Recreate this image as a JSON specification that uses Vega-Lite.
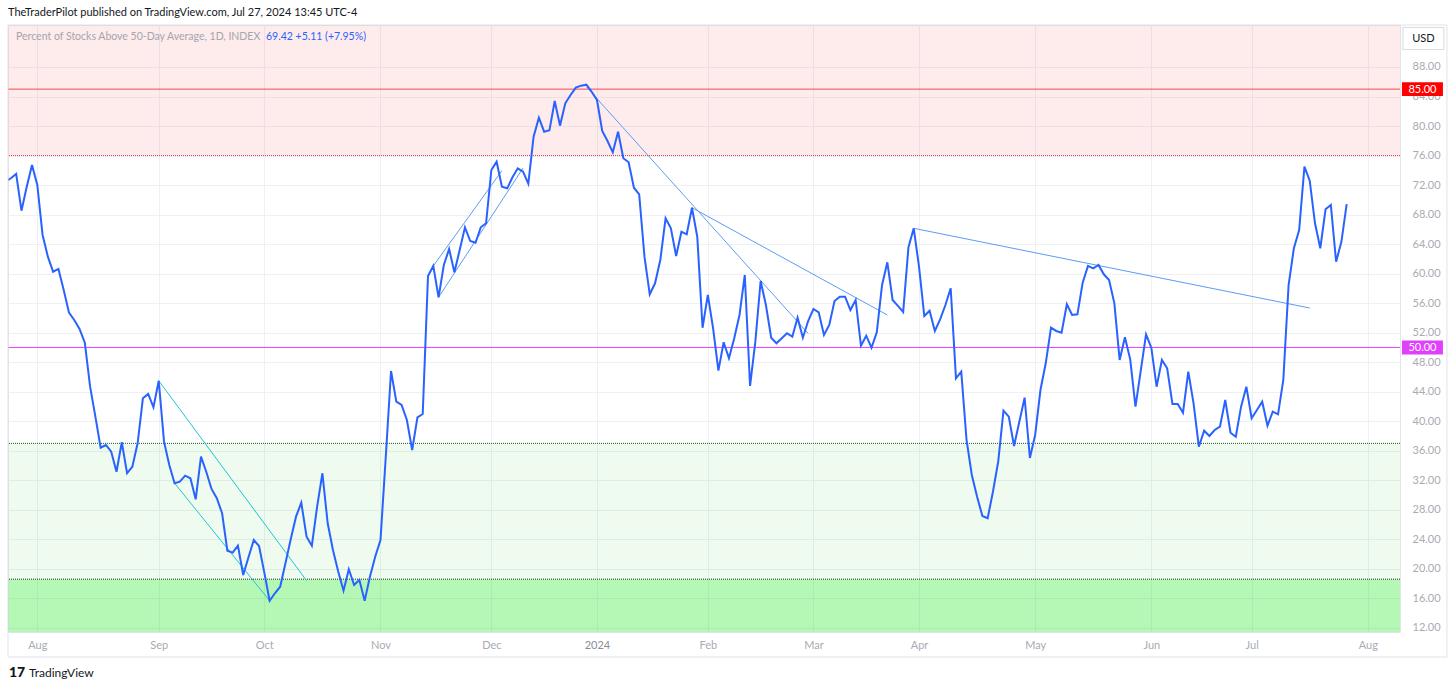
{
  "$schema": "https://vega.github.io/schema/vega-lite/v6.json",
  "width": 1392,
  "height": 607,
  "autosize": {"type": "none"},
  "padding": {"left": 8, "top": 25, "right": 56, "bottom": 57},
  "background": "#ffffff",
  "config": {
    "view": {"stroke": "#e0e3eb", "strokeWidth": 1},
    "font": "Lato",
    "axis": {"labelFont": "Lato", "labelFontSize": 11, "labelColor": "#a8abb3", "gridColor": "#eef0f4", "gridWidth": 1, "domain": false, "ticks": false, "tickSize": 0}
  },
  "title": {
    "text": "TheTraderPilot published on TradingView.com, Jul 27, 2024 13:45 UTC-4",
    "anchor": "start",
    "frame": "group",
    "font": "Lato",
    "fontSize": 11,
    "fontWeight": "normal",
    "color": "#131722",
    "offset": 7
  },
  "datasets": {
    "prices": [
      {"date":"2023-07-24","value":72.5},{"date":"2023-07-25","value":72.92},{"date":"2023-07-26","value":73.5},{"date":"2023-07-27","value":68.53},{"date":"2023-07-28","value":71.78},{"date":"2023-07-31","value":74.72},
      {"date":"2023-08-01","value":72.01},{"date":"2023-08-02","value":65.24},{"date":"2023-08-03","value":62.3},{"date":"2023-08-04","value":60.26},{"date":"2023-08-07","value":60.63},{"date":"2023-08-08","value":57.78},{"date":"2023-08-09","value":54.71},{"date":"2023-08-10","value":53.72},{"date":"2023-08-11","value":52.5},{"date":"2023-08-14","value":50.64},{"date":"2023-08-15","value":44.68},{"date":"2023-08-16","value":40.62},{"date":"2023-08-17","value":36.41},{"date":"2023-08-18","value":36.78},{"date":"2023-08-21","value":35.87},{"date":"2023-08-22","value":33.16},{"date":"2023-08-23","value":37.15},{"date":"2023-08-24","value":32.95},{"date":"2023-08-25","value":33.84},{"date":"2023-08-28","value":37.01},{"date":"2023-08-29","value":43.11},{"date":"2023-08-30","value":43.69},{"date":"2023-08-31","value":41.89},
      {"date":"2023-09-01","value":45.49},{"date":"2023-09-05","value":37.23},{"date":"2023-09-06","value":34.07},{"date":"2023-09-07","value":31.59},{"date":"2023-09-08","value":31.81},{"date":"2023-09-11","value":32.62},{"date":"2023-09-12","value":32.27},{"date":"2023-09-13","value":29.42},{"date":"2023-09-14","value":35.2},{"date":"2023-09-15","value":33.16},{"date":"2023-09-18","value":30.82},{"date":"2023-09-19","value":29.56},{"date":"2023-09-20","value":27.53},{"date":"2023-09-21","value":22.46},{"date":"2023-09-22","value":22.19},{"date":"2023-09-25","value":23.14},{"date":"2023-09-26","value":19.17},{"date":"2023-09-27","value":21.56},{"date":"2023-09-28","value":23.91},{"date":"2023-09-29","value":23.09},
      {"date":"2023-10-02","value":19.48},{"date":"2023-10-03","value":15.68},{"date":"2023-10-04","value":16.69},{"date":"2023-10-05","value":17.58},{"date":"2023-10-06","value":20.75},{"date":"2023-10-09","value":24.0},{"date":"2023-10-10","value":27.07},{"date":"2023-10-11","value":28.96},{"date":"2023-10-12","value":24.35},{"date":"2023-10-13","value":23.14},{"date":"2023-10-16","value":28.42},{"date":"2023-10-17","value":32.95},{"date":"2023-10-18","value":26.17},{"date":"2023-10-19","value":22.55},{"date":"2023-10-20","value":19.61},{"date":"2023-10-23","value":17.04},{"date":"2023-10-24","value":19.94},{"date":"2023-10-25","value":17.81},{"date":"2023-10-26","value":18.49},{"date":"2023-10-27","value":15.68},{"date":"2023-10-30","value":18.93},{"date":"2023-10-31","value":21.64},
      {"date":"2023-11-01","value":23.91},{"date":"2023-11-02","value":35.15},{"date":"2023-11-03","value":46.81},{"date":"2023-11-06","value":42.65},{"date":"2023-11-07","value":42.2},{"date":"2023-11-08","value":40.17},{"date":"2023-11-09","value":36.1},{"date":"2023-11-10","value":40.53},{"date":"2023-11-13","value":40.98},{"date":"2023-11-14","value":59.68},{"date":"2023-11-15","value":61.04},{"date":"2023-11-16","value":56.79},{"date":"2023-11-17","value":61.17},{"date":"2023-11-20","value":63.34},{"date":"2023-11-21","value":60.18},{"date":"2023-11-22","value":63.2},{"date":"2023-11-24","value":66.28},{"date":"2023-11-27","value":64.42},{"date":"2023-11-28","value":64.19},{"date":"2023-11-29","value":66.28},{"date":"2023-11-30","value":66.82},
      {"date":"2023-12-01","value":74.04},{"date":"2023-12-04","value":75.17},{"date":"2023-12-05","value":71.78},{"date":"2023-12-06","value":71.56},{"date":"2023-12-07","value":73.05},{"date":"2023-12-08","value":74.27},{"date":"2023-12-11","value":73.81},{"date":"2023-12-12","value":72.19},{"date":"2023-12-13","value":78.56},{"date":"2023-12-14","value":81.13},{"date":"2023-12-15","value":79.23},{"date":"2023-12-18","value":79.42},{"date":"2023-12-19","value":83.39},{"date":"2023-12-20","value":80.05},{"date":"2023-12-21","value":83.08},{"date":"2023-12-22","value":84.21},{"date":"2023-12-26","value":85.2},{"date":"2023-12-27","value":85.47},{"date":"2023-12-28","value":85.6},{"date":"2023-12-29","value":84.65},
      {"date":"2024-01-02","value":83.53},{"date":"2024-01-03","value":79.33},{"date":"2024-01-04","value":77.97},{"date":"2024-01-05","value":76.44},{"date":"2024-01-08","value":79.23},{"date":"2024-01-09","value":75.63},{"date":"2024-01-10","value":75.09},{"date":"2024-01-11","value":71.64},{"date":"2024-01-12","value":70.75},{"date":"2024-01-16","value":62.3},{"date":"2024-01-17","value":57.2},{"date":"2024-01-18","value":58.69},{"date":"2024-01-19","value":61.85},{"date":"2024-01-22","value":67.5},{"date":"2024-01-23","value":66.14},{"date":"2024-01-24","value":62.39},{"date":"2024-01-25","value":65.68},{"date":"2024-01-26","value":65.33},{"date":"2024-01-29","value":68.93},{"date":"2024-01-30","value":65.0},{"date":"2024-01-31","value":52.67},
      {"date":"2024-02-01","value":57.11},{"date":"2024-02-02","value":52.59},{"date":"2024-02-05","value":46.85},{"date":"2024-02-06","value":50.7},{"date":"2024-02-07","value":48.53},{"date":"2024-02-08","value":51.24},{"date":"2024-02-09","value":54.4},{"date":"2024-02-12","value":59.82},{"date":"2024-02-13","value":44.78},{"date":"2024-02-14","value":50.78},{"date":"2024-02-15","value":59.0},{"date":"2024-02-16","value":55.75},{"date":"2024-02-20","value":51.32},{"date":"2024-02-21","value":50.56},{"date":"2024-02-22","value":51.24},{"date":"2024-02-23","value":51.92},{"date":"2024-02-26","value":51.46},{"date":"2024-02-27","value":54.03},{"date":"2024-02-28","value":51.32},{"date":"2024-02-29","value":53.58},
      {"date":"2024-03-01","value":55.21},{"date":"2024-03-04","value":54.76},{"date":"2024-03-05","value":51.69},{"date":"2024-03-06","value":53.04},{"date":"2024-03-07","value":56.29},{"date":"2024-03-08","value":56.88},{"date":"2024-03-11","value":56.88},{"date":"2024-03-12","value":55.07},{"date":"2024-03-13","value":56.43},{"date":"2024-03-14","value":50.24},{"date":"2024-03-15","value":51.59},{"date":"2024-03-18","value":49.96},{"date":"2024-03-19","value":52.05},{"date":"2024-03-20","value":58.46},{"date":"2024-03-21","value":61.54},{"date":"2024-03-22","value":56.43},{"date":"2024-03-25","value":55.62},{"date":"2024-03-26","value":54.8},{"date":"2024-03-27","value":63.57},{"date":"2024-03-28","value":66.14},
      {"date":"2024-04-01","value":60.94},{"date":"2024-04-02","value":54.26},{"date":"2024-04-03","value":54.98},{"date":"2024-04-04","value":52.23},{"date":"2024-04-05","value":53.81},{"date":"2024-04-08","value":55.75},{"date":"2024-04-09","value":58.01},{"date":"2024-04-10","value":45.82},{"date":"2024-04-11","value":46.71},{"date":"2024-04-12","value":37.46},{"date":"2024-04-15","value":32.72},{"date":"2024-04-16","value":29.78},{"date":"2024-04-17","value":27.16},{"date":"2024-04-18","value":26.85},{"date":"2024-04-19","value":30.45},{"date":"2024-04-22","value":34.52},{"date":"2024-04-23","value":41.43},{"date":"2024-04-24","value":40.62},{"date":"2024-04-25","value":36.64},{"date":"2024-04-26","value":39.94},{"date":"2024-04-29","value":43.19},{"date":"2024-04-30","value":35.02},
      {"date":"2024-05-01","value":38.14},{"date":"2024-05-02","value":44.23},{"date":"2024-05-03","value":47.85},{"date":"2024-05-06","value":52.67},{"date":"2024-05-07","value":52.23},{"date":"2024-05-08","value":52.0},{"date":"2024-05-09","value":55.85},{"date":"2024-05-10","value":54.4},{"date":"2024-05-13","value":54.49},{"date":"2024-05-14","value":58.77},{"date":"2024-05-15","value":61.04},{"date":"2024-05-16","value":60.72},{"date":"2024-05-17","value":61.17},{"date":"2024-05-20","value":59.91},{"date":"2024-05-21","value":59.14},{"date":"2024-05-22","value":55.98},{"date":"2024-05-23","value":48.3},{"date":"2024-05-24","value":51.37},{"date":"2024-05-28","value":48.39},{"date":"2024-05-29","value":41.97},{"date":"2024-05-30","value":46.85},{"date":"2024-05-31","value":51.78},
      {"date":"2024-06-03","value":49.96},{"date":"2024-06-04","value":44.68},{"date":"2024-06-05","value":48.3},{"date":"2024-06-06","value":47.17},{"date":"2024-06-07","value":42.34},{"date":"2024-06-10","value":42.34},{"date":"2024-06-11","value":41.16},{"date":"2024-06-12","value":46.71},{"date":"2024-06-13","value":42.43},{"date":"2024-06-14","value":36.55},{"date":"2024-06-17","value":38.72},{"date":"2024-06-18","value":38.0},{"date":"2024-06-20","value":38.81},{"date":"2024-06-21","value":39.26},{"date":"2024-06-24","value":42.88},{"date":"2024-06-25","value":38.45},{"date":"2024-06-26","value":37.9},{"date":"2024-06-27","value":41.97},{"date":"2024-06-28","value":44.68},
      {"date":"2024-07-01","value":40.4},{"date":"2024-07-02","value":41.52},{"date":"2024-07-03","value":42.65},{"date":"2024-07-05","value":39.4},{"date":"2024-07-08","value":41.29},{"date":"2024-07-09","value":40.94},{"date":"2024-07-10","value":45.59},{"date":"2024-07-11","value":58.46},{"date":"2024-07-12","value":63.43},{"date":"2024-07-15","value":65.91},{"date":"2024-07-16","value":74.49},{"date":"2024-07-17","value":72.59},{"date":"2024-07-18","value":66.82},{"date":"2024-07-19","value":63.43},{"date":"2024-07-22","value":68.72},{"date":"2024-07-23","value":69.3},{"date":"2024-07-24","value":61.62},{"date":"2024-07-25","value":64.31},{"date":"2024-07-26","value":69.42}
    ],
    "trends": [
      {"date":"2023-09-01","line":"L1","grp":"cyan","tv":45.49},{"date":"2023-10-12","line":"L1","grp":"cyan","tv":18.4},
      {"date":"2023-09-07","line":"L2","grp":"cyan","tv":31.6},{"date":"2023-10-03","line":"L2","grp":"cyan","tv":15.68},
      {"date":"2023-11-15","line":"L3","grp":"blue","tv":61.04},{"date":"2023-12-05","line":"L3","grp":"blue","tv":73.95},
      {"date":"2023-11-16","line":"L4","grp":"blue","tv":56.79},{"date":"2023-12-11","line":"L4","grp":"blue","tv":74.3},
      {"date":"2023-12-28","line":"L5","grp":"blue","tv":85.3},{"date":"2024-02-29","line":"L5","grp":"blue","tv":51.9},
      {"date":"2024-01-29","line":"L6","grp":"blue","tv":68.93},{"date":"2024-03-21","line":"L6","grp":"blue","tv":54.4},
      {"date":"2024-03-28","line":"L7","grp":"blue","tv":66.14},{"date":"2024-07-17","line":"L7","grp":"blue","tv":55.34}
    ],
    "levels": [
      {"level":85,"kind":"upper","tag":"85.00"},
      {"level":76,"kind":"upperZone"},
      {"level":50,"kind":"mid","tag":"50.00"},
      {"level":37,"kind":"lowerZone"},
      {"level":18.6,"kind":"lowerExtreme"}
    ],
    "bands": [
      {"lo":76,"hi":100,"zone":"overbought"},
      {"lo":18.6,"hi":37,"zone":"oversold"},
      {"lo":0,"hi":18.6,"zone":"extreme"}
    ],
    "notes": [
      {"role":"name","text":"Percent of Stocks Above 50-Day Average, 1D, INDEX"},
      {"role":"quote","text":"69.42  +5.11 (+7.95%)"},
      {"role":"currency","text":"USD"},
      {"role":"logo","text":"17"},
      {"role":"brand","text":"TradingView"}
    ]
  },
  "layer": [
    {
      "data": {"name": "bands"},
      "transform": [{"filter": "datum.zone == 'overbought'"}],
      "mark": {"type": "rect", "clip": true, "fill": "#f23645", "fillOpacity": 0.1, "strokeWidth": 0},
      "encoding": {
        "y": {
          "field": "lo", "type": "quantitative", "title": null,
          "scale": {"domain": [11.44, 93.69], "nice": false, "zero": false},
          "axis": {
            "orient": "right", "title": null, "grid": true, "tickCount": 40, "values": [12, 16, 20, 24, 28, 32, 36, 40, 44, 48, 52, 56, 60, 64, 68, 72, 76, 80, 84, 88],
            "format": ".2f", "labelAlign": "left", "labelBaseline": "middle", "labelPadding": 12, "labelOverlap": false, "labelFlush": false
          }
        },
        "y2": {"field": "hi"}
      }
    },
    {
      "data": {"name": "bands"},
      "transform": [{"filter": "datum.zone == 'oversold'"}],
      "mark": {"type": "rect", "clip": true, "fill": "#00c800", "fillOpacity": 0.065, "strokeWidth": 0},
      "encoding": {
        "y": {"field": "lo", "type": "quantitative", "title": null},
        "y2": {"field": "hi"}
      }
    },
    {
      "data": {"name": "bands"},
      "transform": [{"filter": "datum.zone == 'extreme'"}],
      "mark": {"type": "rect", "clip": true, "fill": "#00e600", "fillOpacity": 0.29, "strokeWidth": 0},
      "encoding": {
        "y": {"field": "lo", "type": "quantitative", "title": null},
        "y2": {"field": "hi"}
      }
    },
    {
      "data": {"name": "levels"},
      "transform": [{"filter": "datum.kind == 'upper'"}],
      "mark": {"type": "rule", "strokeWidth": 1, "stroke": "#f44a4a", "strokeOpacity": 1},
      "encoding": {"y": {"field": "level", "type": "quantitative", "title": null}}
    },
    {
      "data": {"name": "levels"},
      "transform": [{"filter": "datum.kind == 'upperZone'"}],
      "mark": {"type": "rule", "strokeWidth": 1, "stroke": "#f23645", "strokeOpacity": 1, "strokeDash": [1, 1]},
      "encoding": {"y": {"field": "level", "type": "quantitative", "title": null}}
    },
    {
      "data": {"name": "levels"},
      "transform": [{"filter": "datum.kind == 'mid'"}],
      "mark": {"type": "rule", "strokeWidth": 1, "stroke": "#e040fb", "strokeOpacity": 1},
      "encoding": {"y": {"field": "level", "type": "quantitative", "title": null}}
    },
    {
      "data": {"name": "levels"},
      "transform": [{"filter": "datum.kind == 'lowerZone'"}],
      "mark": {"type": "rule", "strokeWidth": 1, "stroke": "#1b5e20", "strokeOpacity": 1, "strokeDash": [1, 1]},
      "encoding": {"y": {"field": "level", "type": "quantitative", "title": null}}
    },
    {
      "data": {"name": "levels"},
      "transform": [{"filter": "datum.kind == 'lowerExtreme'"}],
      "mark": {"type": "rule", "strokeWidth": 1, "stroke": "#1f331f", "strokeOpacity": 1, "strokeDash": [1, 1]},
      "encoding": {"y": {"field": "level", "type": "quantitative", "title": null}}
    },
    {
      "data": {"name": "prices"},
      "transform": [
        {"window": [{"op": "row_number", "as": "i"}], "sort": [{"field": "date"}]},
        {"lookup": "date", "from": {"data": {"name": "trends"}, "key": "date", "fields": ["line", "grp", "tv"]}},
        {"filter": "datum.grp == 'cyan'"}
      ],
      "mark": {"type": "line", "strokeWidth": 1, "clip": true, "color": "#22c3d8"},
      "encoding": {
        "x": {
          "field": "i", "type": "quantitative", "title": null,
          "scale": {"domain": [1.45, 265.1], "nice": false, "zero": false},
          "axis": {
            "orient": "bottom", "title": null, "grid": true, "tickCount": 40, "values": [7, 30, 50, 72, 93, 113, 134, 154, 174, 196, 218, 237, 259],
            "labelExpr": "['Aug','Sep','Oct','Nov','Dec','2024','Feb','Mar','Apr','May','Jun','Jul','Aug'][indexof([7,30,50,72,93,113,134,154,174,196,218,237,259], datum.value)]",
            "labelColor": {"expr": "datum.value == 113 ? '#8a8d96' : '#a8abb3'"},
            "labelPadding": 7, "labelFlush": false, "labelBound": false, "labelOverlap": false
          }
        },
        "y": {"field": "tv", "type": "quantitative", "title": null},
        "detail": {"field": "line"}
      }
    },
    {
      "data": {"name": "prices"},
      "transform": [
        {"window": [{"op": "row_number", "as": "i"}], "sort": [{"field": "date"}]},
        {"lookup": "date", "from": {"data": {"name": "trends"}, "key": "date", "fields": ["line", "grp", "tv"]}},
        {"filter": "datum.grp == 'blue'"}
      ],
      "mark": {"type": "line", "strokeWidth": 1, "clip": true, "color": "#5b9cf6"},
      "encoding": {
        "x": {"field": "i", "type": "quantitative", "title": null},
        "y": {"field": "tv", "type": "quantitative", "title": null},
        "detail": {"field": "line"}
      }
    },
    {
      "data": {"name": "prices"},
      "transform": [
        {"window": [{"op": "row_number", "as": "i"}], "sort": [{"field": "date"}]}
      ],
      "mark": {"type": "line", "color": "#2962ff", "strokeWidth": 2, "clip": true},
      "encoding": {
        "x": {
          "field": "i", "type": "quantitative", "title": null,
          "axis": {
            "orient": "bottom", "title": null, "grid": true, "tickCount": 40, "values": [7, 30, 50, 72, 93, 113, 134, 154, 174, 196, 218, 237, 259],
            "labelExpr": "['Aug','Sep','Oct','Nov','Dec','2024','Feb','Mar','Apr','May','Jun','Jul','Aug'][indexof([7,30,50,72,93,113,134,154,174,196,218,237,259], datum.value)]",
            "labelColor": {"expr": "datum.value == 113 ? '#8a8d96' : '#a8abb3'"},
            "labelPadding": 7, "labelFlush": false, "labelBound": false, "labelOverlap": false
          }
        },
        "y": {
          "field": "value", "type": "quantitative", "title": null,
          "axis": {
            "orient": "right", "title": null, "grid": true, "tickCount": 40, "values": [12, 16, 20, 24, 28, 32, 36, 40, 44, 48, 52, 56, 60, 64, 68, 72, 76, 80, 84, 88],
            "format": ".2f", "labelAlign": "left", "labelBaseline": "middle", "labelPadding": 12, "labelOverlap": false, "labelFlush": false
          }
        }
      }
    },
    {
      "data": {"name": "levels"},
      "transform": [{"filter": "datum.kind == 'upper'"}],
      "mark": {"type": "point", "shape": "M-1,-0.34L1,-0.34L1,0.34L-1,0.34Z", "size": 1681, "filled": true, "opacity": 1, "strokeWidth": 0, "color": "#ff0000"},
      "encoding": {
        "x": {"datum": 269.35, "type": "quantitative", "title": null},
        "y": {"field": "level", "type": "quantitative", "title": null}
      }
    },
    {
      "data": {"name": "levels"},
      "transform": [{"filter": "datum.kind == 'mid'"}],
      "mark": {"type": "point", "shape": "M-1,-0.34L1,-0.34L1,0.34L-1,0.34Z", "size": 1681, "filled": true, "opacity": 1, "strokeWidth": 0, "color": "#e040fb"},
      "encoding": {
        "x": {"datum": 269.35, "type": "quantitative", "title": null},
        "y": {"field": "level", "type": "quantitative", "title": null}
      }
    },
    {
      "data": {"name": "levels"},
      "transform": [{"filter": "datum.tag != null"}],
      "mark": {"type": "text", "color": "#ffffff", "font": "Lato", "fontSize": 11, "align": "center", "baseline": "middle", "dy": 0.5},
      "encoding": {
        "x": {"datum": 269.35, "type": "quantitative", "title": null},
        "y": {"field": "level", "type": "quantitative", "title": null},
        "text": {"field": "tag"}
      }
    },
    {
      "data": {"name": "notes"},
      "transform": [{"filter": "datum.role == 'currency'"}],
      "mark": {"type": "point", "shape": "M-1,-0.54L1,-0.54L1,0.54L-1,0.54Z", "size": 1681, "filled": true, "color": "#ffffff", "stroke": "#d9dbe1", "strokeWidth": 1, "opacity": 1},
      "encoding": {
        "x": {"datum": 269.53, "type": "quantitative", "title": null},
        "y": {"datum": 91.86, "type": "quantitative", "title": null}
      }
    },
    {
      "data": {"name": "notes"},
      "transform": [{"filter": "datum.role == 'currency'"}],
      "mark": {"type": "text", "color": "#131722", "font": "Lato", "fontSize": 11, "align": "center", "baseline": "middle"},
      "encoding": {
        "x": {"datum": 269.53, "type": "quantitative", "title": null},
        "y": {"datum": 91.86, "type": "quantitative", "title": null},
        "text": {"field": "text"}
      }
    },
    {
      "data": {"name": "notes"},
      "transform": [{"filter": "datum.role == 'name'"}],
      "mark": {"type": "text", "color": "#a3a6af", "font": "Lato", "fontSize": 10.5, "align": "left", "baseline": "middle"},
      "encoding": {
        "x": {"datum": 2.97, "type": "quantitative", "title": null},
        "y": {"datum": 92.07, "type": "quantitative", "title": null},
        "text": {"field": "text"}
      }
    },
    {
      "data": {"name": "notes"},
      "transform": [{"filter": "datum.role == 'quote'"}],
      "mark": {"type": "text", "color": "#2962ff", "font": "Lato", "fontSize": 10.5, "align": "left", "baseline": "middle"},
      "encoding": {
        "x": {"datum": 50.32, "type": "quantitative", "title": null},
        "y": {"datum": 92.07, "type": "quantitative", "title": null},
        "text": {"field": "text"}
      }
    },
    {
      "data": {"name": "notes"},
      "transform": [{"filter": "datum.role == 'logo'"}],
      "mark": {"type": "text", "color": "#131722", "font": "Lato", "fontSize": 14, "fontWeight": 900, "align": "left", "baseline": "middle"},
      "encoding": {
        "x": {"datum": 1.64, "type": "quantitative", "title": null},
        "y": {"datum": 5.89, "type": "quantitative", "title": null},
        "text": {"field": "text"}
      }
    },
    {
      "data": {"name": "notes"},
      "transform": [{"filter": "datum.role == 'brand'"}],
      "mark": {"type": "text", "color": "#131722", "font": "Lato", "fontSize": 12, "align": "left", "baseline": "middle"},
      "encoding": {
        "x": {"datum": 5.43, "type": "quantitative", "title": null},
        "y": {"datum": 5.89, "type": "quantitative", "title": null},
        "text": {"field": "text"}
      }
    },
    {
      "data": {"values": [{"frame": "chart"}]},
      "mark": {"type": "rect", "fill": "transparent", "stroke": "#e0e3eb", "strokeWidth": 1},
      "encoding": {
        "x": {"datum": 1.45, "type": "quantitative", "title": null},
        "x2": {"datum": 273.99},
        "y": {"datum": 93.69, "type": "quantitative", "title": null},
        "y2": {"datum": 8.05}
      }
    }
  ]
}
